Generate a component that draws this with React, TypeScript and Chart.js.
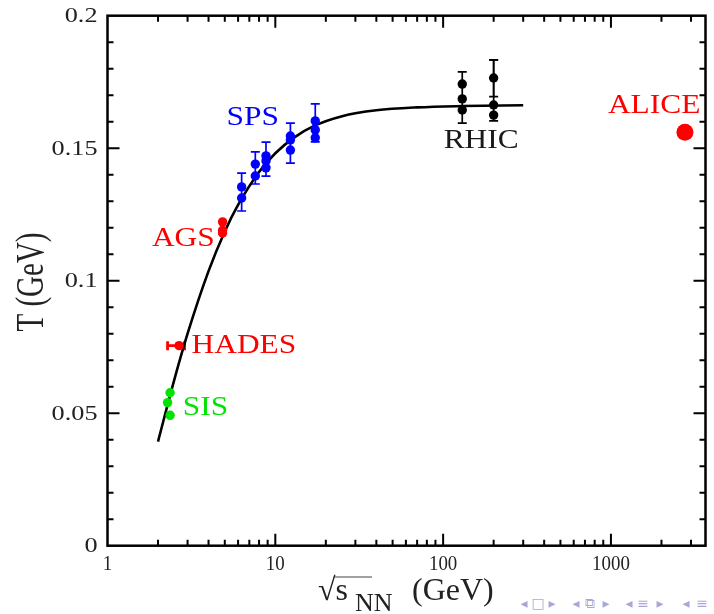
import React, { useEffect, useRef } from 'react';
import { Chart, registerables } from 'chart.js';
Chart.register(...registerables);

// ---- data ----
const curveEnergy = [2, 2.5, 3, 4, 5, 6, 8, 10, 13, 17, 25, 40, 70, 130, 300];
const curveT = [0.0393, 0.0626, 0.08, 0.1036, 0.1186, 0.1286, 0.141, 0.1481, 0.1541, 0.1584, 0.1621, 0.1643, 0.1654, 0.1659, 0.1662];

const sisEnergy = [2.36, 2.28, 2.36];
const sisT = [0.0577, 0.054, 0.0492];

const hadesEnergy = [2.67];
const hadesT = [0.0755];
const hadesEnergyLow = [2.28];
const hadesEnergyHigh = [2.88];

const agsEnergy = [4.85, 4.85, 4.85];
const agsT = [0.1222, 0.119, 0.118];

const spsEnergy = [6.3, 6.3, 7.6, 7.6, 8.8, 8.8, 8.8, 12.3, 12.3, 12.3, 17.3, 17.3, 17.3];
const spsT = [0.1354, 0.1312, 0.144, 0.1395, 0.1471, 0.1452, 0.1426, 0.1546, 0.1531, 0.1493, 0.1603, 0.1569, 0.1539];
const spsBarEnergy = [6.3, 7.6, 8.8, 12.3, 17.3];
const spsBarLow = [0.1263, 0.1365, 0.1395, 0.1444, 0.1524];
const spsBarHigh = [0.1406, 0.1486, 0.1523, 0.1595, 0.1667];

const rhicEnergy = [130, 130, 130, 200, 200, 200];
const rhicT = [0.1742, 0.1686, 0.1644, 0.1765, 0.1663, 0.1625];
const rhicBarEnergy = [130, 200, 200];
const rhicBarLow = [0.1595, 0.1603, 0.1695];
const rhicBarHigh = [0.1788, 0.1833, 0.1833];

const aliceEnergy = [2760];
const aliceT = [0.156];

const groupNames = ['SIS', 'HADES', 'AGS', 'SPS', 'RHIC', 'ALICE'];
const groupColors = ['#00e400', '#ff0000', '#ff0000', '#0000ff', '#1a1a1a', '#ff0000'];
// label anchors (left/baseline) in data coordinates
const labelEnergy = [2.81, 3.17, 1.84, 5.12, 100.7, 960];
const labelT = [0.0493, 0.0727, 0.1131, 0.1588, 0.150, 0.1633];

const xTickValues = [1, 10, 100, 1000];
const xTickLabels = ['1', '10', '100', '1000'];
const yTickValues = [0, 0.05, 0.1, 0.15, 0.2];
const yTickLabels = ['0', '0.05', '0.1', '0.15', '0.2'];

const X_MIN = 1;
const X_MAX = 3660;
const Y_MIN = 0;
const Y_MAX = 0.2;

const navSymbols = ['◂', '□', '▸', '◂', '⧉', '▸', '◂', '≡', '▸', '◂', '≡'];

const pts = (xs: number[], ys: number[]) => xs.map((v, i) => ({ x: v, y: ys[i] }));

function sText(ctx: CanvasRenderingContext2D, text: string, x: number, y: number, font: string, sx: number, sy: number, align: CanvasTextAlign, baseline: CanvasTextBaseline, color: string) {
  ctx.save();
  ctx.translate(x, y);
  ctx.scale(sx, sy);
  ctx.font = font;
  ctx.textAlign = align;
  ctx.textBaseline = baseline;
  ctx.fillStyle = color;
  ctx.fillText(text, 0, 0);
  ctx.restore();
}

const SERIF = '"Liberation Serif", "DejaVu Serif", serif';

const decor = {
  id: 'decor',
  beforeDatasetsDraw(chart: any) {
    const ctx: CanvasRenderingContext2D = chart.ctx;
    const xs = chart.scales.x;
    const ys = chart.scales.y;
    ctx.save();
    const vbars = (es: number[], lo: number[], hi: number[], color: string) => {
      ctx.strokeStyle = color;
      ctx.lineWidth = 1.7;
      es.forEach((e, i) => {
        const px = xs.getPixelForValue(e);
        const p1 = ys.getPixelForValue(lo[i]);
        const p2 = ys.getPixelForValue(hi[i]);
        ctx.beginPath();
        ctx.moveTo(px, p1); ctx.lineTo(px, p2);
        ctx.moveTo(px - 4.5, p1); ctx.lineTo(px + 4.5, p1);
        ctx.moveTo(px - 4.5, p2); ctx.lineTo(px + 4.5, p2);
        ctx.stroke();
      });
    };
    vbars(spsBarEnergy, spsBarLow, spsBarHigh, '#0000ff');
    vbars(rhicBarEnergy, rhicBarLow, rhicBarHigh, '#000000');
    // HADES horizontal bar
    ctx.strokeStyle = '#ff0000';
    ctx.lineWidth = 2.8;
    hadesEnergy.forEach((_, i) => {
      const py = ys.getPixelForValue(hadesT[i]);
      const a = xs.getPixelForValue(hadesEnergyLow[i]);
      const b = xs.getPixelForValue(hadesEnergyHigh[i]);
      ctx.beginPath();
      ctx.moveTo(a, py); ctx.lineTo(b, py);
      ctx.moveTo(a, py - 4.5); ctx.lineTo(a, py + 4.5);
      ctx.moveTo(b, py - 4.5); ctx.lineTo(b, py + 4.5);
      ctx.stroke();
    });
    ctx.restore();
  },
  afterDraw(chart: any) {
    const ctx: CanvasRenderingContext2D = chart.ctx;
    const xs = chart.scales.x;
    const ys = chart.scales.y;
    const { left, right, top, bottom } = chart.chartArea;
    ctx.save();
    // ticks
    ctx.strokeStyle = '#000';
    ctx.lineWidth = 2;
    ctx.beginPath();
    for (let d = 1; d <= X_MAX; d *= 10) {
      for (let m = 1; m <= 9; m++) {
        const v = d * m;
        if (v <= X_MIN || v >= X_MAX) continue;
        const len = m === 1 ? 12 : 6;
        const px = xs.getPixelForValue(v);
        ctx.moveTo(px, bottom); ctx.lineTo(px, bottom - len);
        ctx.moveTo(px, top); ctx.lineTo(px, top + len);
      }
    }
    for (let k = 1; k < 20; k++) {
      const v = k * 0.01;
      const len = k % 5 === 0 ? 12 : 6;
      const py = ys.getPixelForValue(v);
      ctx.moveTo(left, py); ctx.lineTo(left + len, py);
      ctx.moveTo(right, py); ctx.lineTo(right - len, py);
    }
    ctx.stroke();
    // frame
    ctx.lineWidth = 2.5;
    ctx.strokeRect(left, top, right - left, bottom - top);

    // tick labels
    yTickValues.forEach((v, i) => {
      sText(ctx, yTickLabels[i], left - 10, ys.getPixelForValue(v) + 1, `21px ${SERIF}`, 1.25, 1, 'right', 'middle', '#222');
    });
    xTickValues.forEach((v, i) => {
      sText(ctx, xTickLabels[i], xs.getPixelForValue(v), bottom + 8, `22px ${SERIF}`, 0.86, 1, 'center', 'top', '#222');
    });

    // y title
    ctx.save();
    ctx.translate(33, 282);
    ctx.rotate(-Math.PI / 2);
    ctx.scale(1, 1.35);
    ctx.font = `29px ${SERIF}`;
    ctx.textAlign = 'center';
    ctx.textBaseline = 'middle';
    ctx.fillStyle = '#222';
    ctx.fillText('T (GeV)', 0, 0);
    ctx.restore();

    // x title: sqrt(s)_NN (GeV)
    ctx.save();
    ctx.fillStyle = '#222';
    ctx.font = `32px ${SERIF}`;
    ctx.textBaseline = 'alphabetic';
    ctx.textAlign = 'left';
    const bx = 318;
    const by = 600;
    ctx.fillText('√', bx, by);
    const rw = ctx.measureText('√').width;
    ctx.fillText('s', bx + rw, by);
    ctx.strokeStyle = '#444';
    ctx.lineWidth = 1.2;
    ctx.beginPath();
    ctx.moveTo(bx + rw - 2, 577);
    ctx.lineTo(372, 577);
    ctx.stroke();
    ctx.font = `26px ${SERIF}`;
    ctx.fillText('NN', 355, 611);
    ctx.font = `32px ${SERIF}`;
    ctx.fillText('(GeV)', 412, 600);
    ctx.restore();

    // group labels
    groupNames.forEach((name, i) => {
      sText(ctx, name, xs.getPixelForValue(labelEnergy[i]), ys.getPixelForValue(labelT[i]), `28px ${SERIF}`, 1.12, 1, 'left', 'alphabetic', groupColors[i]);
    });

    // beamer navigation symbols
    ctx.font = '14px "DejaVu Sans", sans-serif';
    ctx.fillStyle = '#a8a8d8';
    ctx.textAlign = 'center';
    ctx.textBaseline = 'middle';
    const navX = [524, 538, 552, 576, 590, 606, 629, 643, 660, 686, 702];
    navSymbols.forEach((s, i) => ctx.fillText(s, navX[i], 604));
    ctx.restore();
  },
};

export default function App() {
  const ref = useRef<HTMLCanvasElement>(null);
  useEffect(() => {
    const dot = (color: string, r = 4.7) => ({
      showLine: false,
      pointRadius: r,
      pointBackgroundColor: color,
      pointBorderWidth: 0,
      pointBorderColor: color,
      backgroundColor: color,
      borderColor: color,
    });
    const chart = new Chart(ref.current!, {
      type: 'scatter',
      data: {
        datasets: [
          { label: 'SIS', data: pts(sisEnergy, sisT), ...dot('#00e400') },
          { label: 'HADES', data: pts(hadesEnergy, hadesT), ...dot('#ff0000') },
          { label: 'AGS', data: pts(agsEnergy, agsT), ...dot('#ff0000') },
          { label: 'SPS', data: pts(spsEnergy, spsT), ...dot('#0000ff') },
          { label: 'RHIC', data: pts(rhicEnergy, rhicT), ...dot('#000000') },
          { label: 'ALICE', data: pts(aliceEnergy, aliceT), ...dot('#ff0000', 8.5) },
          {
            label: 'fit',
            type: 'line',
            data: pts(curveEnergy, curveT),
            showLine: true,
            borderColor: '#000',
            borderWidth: 2.6,
            pointRadius: 0,
            cubicInterpolationMode: 'monotone',
            fill: false,
          } as any,
        ],
      },
      options: {
        responsive: false,
        animation: false,
        events: [],
        layout: { padding: { left: 0, top: 15.7, right: 6, bottom: 0 } },
        plugins: { legend: { display: false }, tooltip: { enabled: false } },
        scales: {
          x: {
            type: 'logarithmic',
            min: X_MIN,
            max: X_MAX,
            grid: { display: false },
            border: { display: false },
            ticks: { display: false },
            afterFit: (s: any) => { s.height = 614 - 545.7; },
          },
          y: {
            type: 'linear',
            min: Y_MIN,
            max: Y_MAX,
            grid: { display: false },
            border: { display: false },
            ticks: { display: false },
            afterFit: (s: any) => { s.width = 107.5; },
          },
        },
      },
      plugins: [decor],
    } as any);
    return () => chart.destroy();
  }, []);
  return (
    <div style={{ position: 'fixed', left: 0, top: 0, width: 714, height: 614, background: '#fff' }}>
      <canvas ref={ref} width={714} height={614} style={{ display: 'block' }} />
    </div>
  );
}
